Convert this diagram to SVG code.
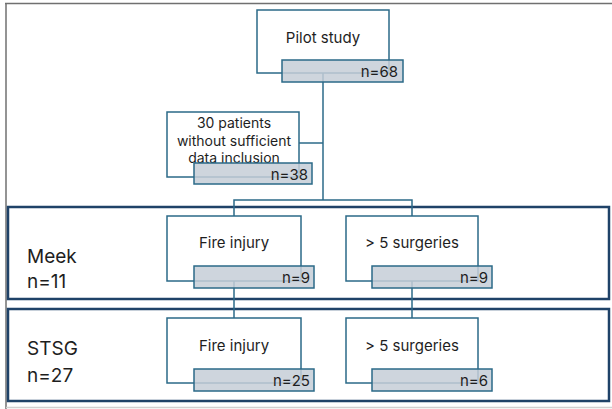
<svg xmlns="http://www.w3.org/2000/svg" width="612" height="409" viewBox="0 0 612 409">
<style>
.box{fill:#ffffff;stroke:#2b6a88;stroke-width:1.5}
.nbox{fill:#c6ced7;fill-opacity:0.85;stroke:#2b6a88;stroke-width:1.5}
.frame{fill:none;stroke:#1f4268;stroke-width:2.5}
.conn{fill:none;stroke:#2b6a88;stroke-width:1.5}
.t{font-family:"Inter","Liberation Sans",sans-serif;font-size:15px;fill:#1e1e1e}
.ml{font-family:"Inter","Liberation Sans",sans-serif;font-size:14px;fill:#1e1e1e}
.big{font-family:"Inter","Liberation Sans",sans-serif;font-size:19px;fill:#1e1e1e}
</style>
<rect x="0" y="0" width="612" height="409" fill="#ffffff"/>
<g id="page-border" fill="none">
<line x1="5" y1="3.5" x2="612" y2="3.5" stroke="#707070" stroke-width="1.5"/>
<line x1="6" y1="3" x2="6" y2="409" stroke="#707070" stroke-width="1.5"/>
<line x1="6" y1="407.5" x2="612" y2="407.5" stroke="#d0d0d0" stroke-width="1.5"/>
</g>
<g id="meek-group">
<rect class="frame" x="8" y="207" width="601" height="92"/>
<text class="big" x="27" y="263">Meek</text>
<text class="big" x="27" y="288">n=11</text>
</g>
<g id="stsg-group">
<rect class="frame" x="8" y="309" width="601" height="92"/>
<text class="big" x="27" y="355">STSG</text>
<text class="big" x="27" y="382">n=27</text>
</g>
<g id="connectors">
<line class="conn" x1="323" y1="73" x2="323" y2="200"/>
<line class="conn" x1="299" y1="143" x2="323" y2="143"/>
<polyline class="conn" points="234,216 234,200 412,200 412,216"/>
<line class="conn" x1="234" y1="281" x2="234" y2="318"/>
<line class="conn" x1="412" y1="281" x2="412" y2="318"/>
</g>
<g id="pilot">
<rect class="box" x="257" y="10" width="132" height="63"/>
<rect class="nbox" x="282" y="60" width="121" height="22"/>
<text class="t" x="323" y="43" text-anchor="middle">Pilot study</text>
<text class="t" x="398" y="77" text-anchor="end">n=68</text>
</g>
<g id="excluded">
<rect class="box" x="167" y="112" width="132" height="65"/>
<text class="ml" x="234" y="128" text-anchor="middle">30 patients</text>
<text class="ml" x="234" y="145.5" text-anchor="middle">without sufficient</text>
<text class="ml" x="234" y="163" text-anchor="middle">data inclusion</text>
<rect class="nbox" x="194" y="163" width="118" height="21"/>
<text class="t" x="308" y="180" text-anchor="end">n=38</text>
</g>
<g id="meek-fire">
<rect class="box" x="167" y="216" width="134" height="65"/>
<rect class="nbox" x="194" y="266" width="120" height="22"/>
<text class="t" x="234" y="248" text-anchor="middle">Fire injury</text>
<text class="t" x="310" y="283" text-anchor="end">n=9</text>
</g>
<g id="meek-surg">
<rect class="box" x="346" y="216" width="132" height="65"/>
<rect class="nbox" x="372" y="266" width="120" height="22"/>
<text class="t" x="412" y="248" text-anchor="middle">&gt; 5 surgeries</text>
<text class="t" x="488" y="283" text-anchor="end">n=9</text>
</g>
<g id="stsg-fire">
<rect class="box" x="167" y="318" width="134" height="65"/>
<rect class="nbox" x="194" y="369" width="120" height="22"/>
<text class="t" x="234" y="351" text-anchor="middle">Fire injury</text>
<text class="t" x="310" y="386" text-anchor="end">n=25</text>
</g>
<g id="stsg-surg">
<rect class="box" x="346" y="318" width="132" height="65"/>
<rect class="nbox" x="372" y="369" width="120" height="22"/>
<text class="t" x="412" y="351" text-anchor="middle">&gt; 5 surgeries</text>
<text class="t" x="488" y="386" text-anchor="end">n=6</text>
</g>
</svg>
